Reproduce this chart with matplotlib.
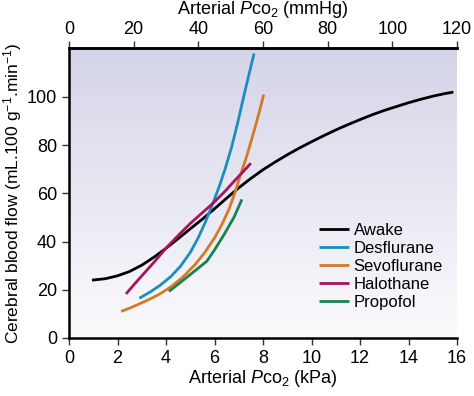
import numpy as np
import matplotlib
matplotlib.use("Agg")
import matplotlib.pyplot as plt
from matplotlib.colors import LinearSegmentedColormap

plt.rcParams['font.family'] = ['Liberation Sans', 'DejaVu Sans']
plt.rcParams['mathtext.fontset'] = 'custom'
plt.rcParams['mathtext.rm'] = 'Liberation Sans'
plt.rcParams['mathtext.it'] = 'Liberation Sans:italic'

# Data (kPa, mL.100 g-1.min-1)
awake_x = [0.95, 1.5, 2.0, 2.5, 3.0, 3.5, 4.0, 4.5, 5.0, 5.5, 6.0, 6.5, 7.0, 7.5,
           8.0, 8.5, 9.0, 9.5, 10, 10.5, 11, 11.5, 12, 12.5, 13, 13.5, 14, 14.5,
           15, 15.5, 15.85]
awake_y = [24, 24.6, 25.8, 27.6, 30.2, 33.5, 37.2, 41.2, 45.3, 49.3, 53.6, 58,
           62.3, 66.2, 69.8, 73, 76, 78.8, 81.4, 83.9, 86.3, 88.5, 90.6, 92.6,
           94.4, 96, 97.6, 99, 100.3, 101.4, 102]
des_x = [2.9, 3.3, 3.75, 4.2, 4.6, 5.0, 5.3, 5.6, 5.9, 6.2, 6.45, 6.7, 6.95,
         7.2, 7.45, 7.63]
des_y = [16.5, 18.8, 21.8, 25.5, 29.8, 35.5, 41, 47.5, 55, 63, 70.5, 79, 89,
         100, 110.5, 118]
sevo_x = [2.15, 2.6, 3.2, 3.7, 4.2, 4.7, 5.2, 5.6, 6.0, 6.3, 6.6, 6.85, 7.05,
          7.3, 7.55, 7.8, 8.03]
sevo_y = [11, 12.8, 15.5, 18, 21.2, 25.3, 30.5, 35.5, 41.5, 47, 53.5, 60.5,
          67, 74.5, 83, 92, 101]
halo_x = [2.35, 2.8, 3.2, 3.6, 4.0, 4.5, 5.0, 5.5, 5.95, 6.4, 6.85, 7.2, 7.5]
halo_y = [18.3, 23.5, 28, 32.5, 37.3, 42.5, 47.5, 52, 56, 60.5, 65.5, 69.2, 72.5]
prop_x = [4.12, 4.9, 5.68, 6.0, 6.4, 6.8, 7.13]
prop_y = [19.3, 25.5, 31.8, 36.5, 43, 50, 57.5]

series = [
    ("Awake", awake_x, awake_y, "#000000"),
    ("Desflurane", des_x, des_y, "#1b8dbf"),
    ("Sevoflurane", sevo_x, sevo_y, "#d47a25"),
    ("Halothane", halo_x, halo_y, "#a8135a"),
    ("Propofol", prop_x, prop_y, "#1b7f4f"),
]

x_ticks = [0, 2, 4, 6, 8, 10, 12, 14, 16]
y_ticks = [0, 20, 40, 60, 80, 100]
top_ticks = [0, 20, 40, 60, 80, 100, 120]

fig = plt.figure(figsize=(4.74, 3.96), dpi=100)
ax = fig.add_axes([69/474, 1-338/396, (457-69)/474, (338-48)/396])
ax.set_xlim(0, 16)
ax.set_ylim(0, 120.3)

cmap = LinearSegmentedColormap.from_list("bg", ["#fbfbfd", "#d4d4e8"])
grad = np.linspace(0, 1, 256).reshape(-1, 1)
ax.imshow(grad, extent=[0, 16, 0, 120.3], origin='lower', aspect='auto',
          cmap=cmap, zorder=0)

for name, xs, ys, c in series:
    ax.plot(xs, ys, color=c, lw=2.0, label=name, solid_capstyle='butt',
            solid_joinstyle='round', zorder=3)

ax.set_xticks(x_ticks)
ax.set_yticks(y_ticks)
ax.tick_params(labelsize=13, width=1, length=5, direction='out', color='#333333')
for s in ['left', 'bottom', 'top']:
    ax.spines[s].set_linewidth(1.8)
ax.spines['right'].set_visible(False)

ax.set_xlabel(r"Arterial $\mathit{P}\mathrm{co}_2$ (kPa)", fontsize=13, labelpad=1)
ax.set_ylabel(r"Cerebral blood flow (mL.100 g$^{-1}$.min$^{-1}$)", fontsize=12.5, labelpad=2)

sec = ax.secondary_xaxis('top', functions=(lambda k: k*7.5, lambda m: m/7.5))
sec.set_xticks(top_ticks)
sec.tick_params(labelsize=13, width=1, length=5, pad=2, direction='out', color='#333333')
sec.spines['top'].set_linewidth(1.8)
sec.set_xlabel(r"Arterial $\mathit{P}\mathrm{co}_2$ (mmHg)", fontsize=13, labelpad=5)

leg = ax.legend(loc='upper left', bbox_to_anchor=(307/474, 1-211/396),
                bbox_transform=fig.transFigure, frameon=False, fontsize=12,
                handlelength=1.8, handletextpad=0.3, labelspacing=0.18,
                borderpad=0.2)

fig.savefig("out.png", dpi=100)
